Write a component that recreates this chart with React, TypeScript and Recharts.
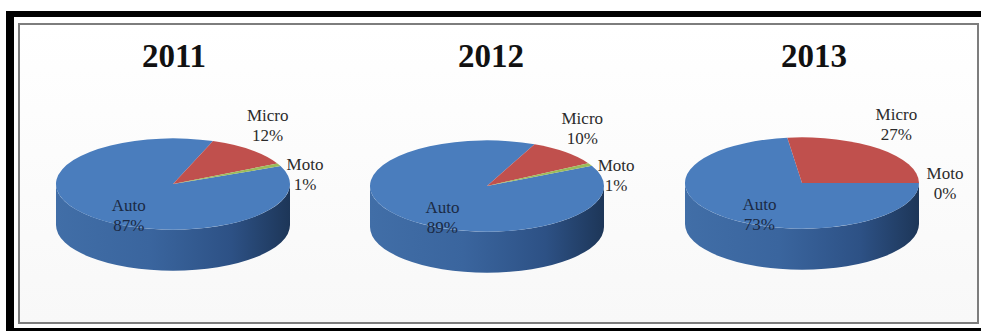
import { PieChart, Pie, Cell } from 'recharts';

const years = ['2011', '2012', '2013'];
const categories = ['Auto', 'Micro', 'Moto'];
const autoPct = [87, 89, 73];
const microPct = [12, 10, 27];
const motoPct = [1, 1, 0];
// angle where the first slice (Auto) begins, going clockwise
const firstSliceAngle = [23.2, 26.4, 0];

const TOP_COLORS = ['#4a7dbd', '#c0504d', '#9bbb59'];
const SIDE_STOPS: Record<string, string[]> = {
  '#4a7dbd': ['#416ea7', '#3a659e', '#2d5185', '#1d3658'],
  '#c0504d': ['#a8423f', '#9c3b38', '#85302e', '#5e2120'],
  '#9bbb59': ['#86a44b', '#7b9744', '#6a833a', '#4a5c28'],
};

const W = 981;
const H = 331;
const PIE_CX = [173, 487, 802];
const PIE_CY = [184, 186, 183];
const TITLE_X = [174, 491, 814];
const R = 117;
const TILT = 0.39;
const DEPTH = 41;
const RAD = Math.PI / 180;
const SERIF = '"Liberation Serif", "Times New Roman", serif';

function Slice3D(props: any) {
  const { cx, cy, outerRadius, startAngle, endAngle, fill } = props;
  const span = Math.abs(startAngle - endAngle);
  if (span < 0.001) return <g />;
  const rx = outerRadius;
  const ry = rx * TILT;
  const at = (a: number, dy = 0) =>
    `${cx + rx * Math.cos(a * RAD)},${cy - ry * Math.sin(a * RAD) + dy}`;

  // front-facing wall: parts of the arc in the lower half of the ellipse
  const lo = Math.min(startAngle, endAngle);
  const hi = Math.max(startAngle, endAngle);
  const walls: string[] = [];
  for (let k = Math.floor(lo / 360) - 1; k <= Math.ceil(hi / 360) + 1; k++) {
    const a = Math.max(lo, 180 + 360 * k);
    const b = Math.min(hi, 360 + 360 * k);
    if (b - a > 0.01) {
      walls.push(
        `M${at(a)} A${rx},${ry} 0 0 0 ${at(b)} L${at(b, DEPTH)} A${rx},${ry} 0 0 1 ${at(a, DEPTH)} Z`,
      );
    }
  }
  const top = `M${cx},${cy} L${at(startAngle)} A${rx},${ry} 0 ${span > 180 ? 1 : 0} ${
    startAngle > endAngle ? 1 : 0
  } ${at(endAngle)} Z`;
  const stops = SIDE_STOPS[fill] || [fill, fill, fill, fill];
  const id = `wall-${Math.round(cx)}-${String(fill).slice(1)}`;

  return (
    <g>
      <defs>
        <linearGradient id={id} gradientUnits="userSpaceOnUse" x1={cx - rx} y1={0} x2={cx + rx} y2={0}>
          <stop offset="0" stopColor={stops[0]} />
          <stop offset="0.4" stopColor={stops[1]} />
          <stop offset="0.75" stopColor={stops[2]} />
          <stop offset="1" stopColor={stops[3]} />
        </linearGradient>
      </defs>
      {walls.map((d, i) => (
        <path key={i} d={d} fill={`url(#${id})`} />
      ))}
      <path d={top} fill={fill} />
    </g>
  );
}

function renderLabel(props: any) {
  const { cx, cy, midAngle, outerRadius, percent, name, value } = props;
  const rx = outerRadius;
  const ry = rx * TILT;
  const cos = Math.cos(midAngle * RAD);
  const sin = Math.sin(midAngle * RAD);
  const ex = cx + rx * cos;
  const ey = cy - ry * sin;
  let lx: number;
  let ly: number;
  let color = '#2b2b2b';
  const m = ((midAngle % 360) + 360) % 360;
  if (percent > 0.5) {
    lx = cx + 0.55 * rx * cos;
    ly = cy - 0.55 * ry * sin + 13;
    color = '#1b2a44';
  } else if (m < 35 || m > 325) {
    lx = ex + 26;
    ly = cy - ry * sin * 0.5;
  } else {
    lx = ex + 17;
    ly = ey - 24;
  }
  return (
    <text x={lx} y={ly} textAnchor="middle" fill={color} fontFamily={SERIF} fontSize={17}>
      <tspan x={lx} y={ly - 4.5}>
        {name}
      </tspan>
      <tspan x={lx} y={ly + 15.5}>
        {`${value}%`}
      </tspan>
    </text>
  );
}

const pies = years.map((year, i) => ({
  year,
  startAngle: firstSliceAngle[i],
  data: [
    { name: categories[0], value: autoPct[i] },
    { name: categories[1], value: microPct[i] },
    { name: categories[2], value: motoPct[i] },
  ],
}));

export default function App() {
  return (
    <div style={{ position: 'absolute', left: 0, top: 0, width: W, height: H, overflow: 'hidden', background: '#fff' }}>
      {/* heavy black frame */}
      <div
        style={{
          position: 'absolute',
          left: 6,
          top: 11,
          width: 1000,
          height: 324,
          boxSizing: 'border-box',
          borderLeft: '8px solid #000',
          borderTop: '6px solid #000',
          borderBottom: '7px solid #000',
        }}
      />
      {/* inner gray border + panel */}
      <div
        style={{
          position: 'absolute',
          left: 18,
          top: 23,
          width: 961,
          height: 301,
          boxSizing: 'border-box',
          border: '2.5px solid #7d7d7d',
          background: 'linear-gradient(#ffffff, #f8f8f8)',
        }}
      />
      {years.map((y, i) => (
        <div
          key={y}
          style={{
            position: 'absolute',
            left: TITLE_X[i] - 60,
            width: 120,
            top: 37,
            textAlign: 'center',
            fontFamily: SERIF,
            fontWeight: 'bold',
            fontSize: 33,
            lineHeight: '38px',
            color: '#111',
          }}
        >
          {y}
        </div>
      ))}
      <div style={{ position: 'absolute', left: 0, top: 0 }}>
        <PieChart width={W} height={H} margin={{ top: 0, right: 0, bottom: 0, left: 0 }}>
          {pies.map((p, i) => (
            <Pie
              key={p.year}
              data={p.data}
              dataKey="value"
              nameKey="name"
              cx={PIE_CX[i]}
              cy={PIE_CY[i]}
              outerRadius={R}
              innerRadius={0}
              startAngle={p.startAngle}
              endAngle={p.startAngle - 360}
              shape={Slice3D}
              activeShape={Slice3D}
              inactiveShape={Slice3D}
              label={renderLabel}
              labelLine={false}
              stroke="none"
              isAnimationActive={false}
            >
              {p.data.map((d, j) => (
                <Cell key={d.name} fill={TOP_COLORS[j]} />
              ))}
            </Pie>
          ))}
        </PieChart>
      </div>
    </div>
  );
}
